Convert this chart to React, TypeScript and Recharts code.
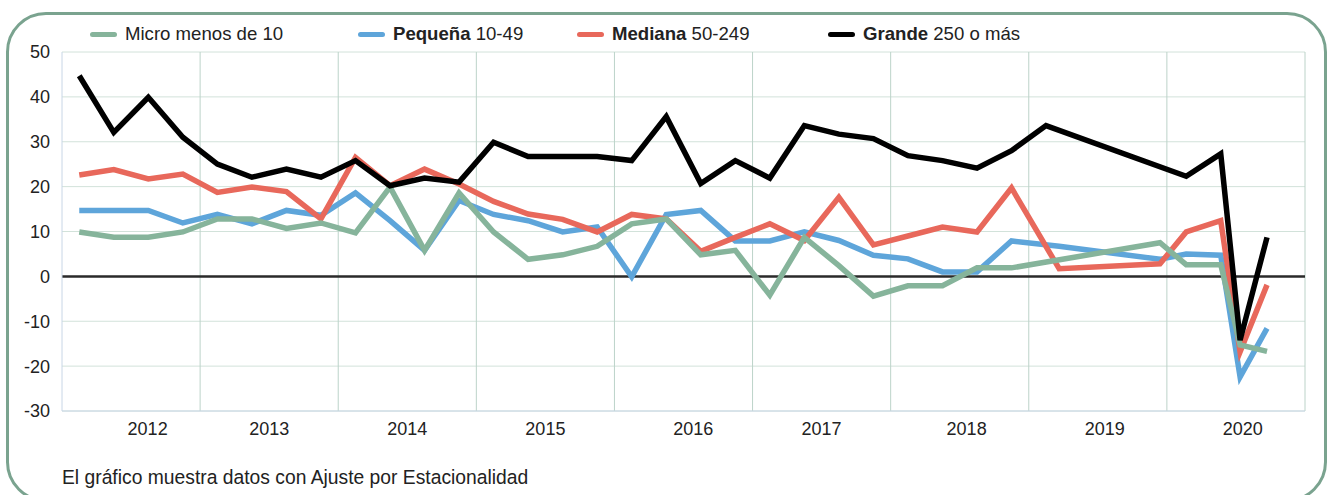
import { LineChart, Line, XAxis, YAxis, CartesianGrid, ReferenceLine } from 'recharts';

// fecha de cada dato, en años decimales (trimestres centrados + datos sueltos de 2019-2020)
const periods = [
  2012.125, 2012.375, 2012.625, 2012.875,
  2013.125, 2013.375, 2013.625, 2013.875,
  2014.125, 2014.375, 2014.625, 2014.875,
  2015.125, 2015.375, 2015.625, 2015.875,
  2016.125, 2016.375, 2016.625, 2016.875,
  2017.125, 2017.375, 2017.625, 2017.875,
  2018.125, 2018.375, 2018.625, 2018.875,
  2019.125, 2019.22, 2019.95,
  2020.14, 2020.39, 2020.53, 2020.725,
];

const micro = [
  9.9, 8.7, 8.7, 9.9, 12.8, 12.8, 10.7, 11.9, 9.7, 19.9, 5.8, 18.6,
  9.9, 3.8, 4.8, 6.7, 11.7, 12.8, 4.8, 5.8, -4.2, 8.7, 2.4, -4.4,
  -2.1, -2.1, 1.9, 1.9, null, null, 7.5, 2.6, 2.6, -15.3, -16.7,
];
const pequena = [
  14.7, 14.7, 14.7, 11.9, 13.8, 11.7, 14.7, 13.6, 18.6, 12.4, 5.8, 16.9,
  13.8, 12.4, 9.9, 11.0, -0.1, 13.8, 14.7, 7.9, 7.9, 9.9, 8.0, 4.7,
  3.9, 1.0, 1.0, 7.9, null, 6.7, 3.8, 5.0, 4.7, -22.4, -11.6,
];
const mediana = [
  22.6, 23.8, 21.7, 22.8, 18.7, 19.9, 18.9, 12.8, 26.5, 20.2, 23.9, 20.6,
  16.7, 13.9, 12.7, 9.9, 13.8, 12.8, 5.6, 8.7, 11.7, 8.0, 17.6, 7.0,
  9.0, 11.0, 9.9, 19.7, null, 1.7, 2.8, 9.9, 12.4, -16.8, -1.9,
];
const grande = [
  44.7, 32.1, 39.9, 31.0, 25.0, 22.1, 23.9, 22.1, 25.8, 20.2, 21.9, 21.0,
  29.9, 26.7, 26.7, 26.7, 25.8, 35.6, 20.7, 25.8, 21.9, 33.6, 31.7, 30.7,
  26.9, 25.8, 24.1, 28.0, 33.6, null, null, 22.3, 27.3, -14.2, 8.7,
];

// posición de las etiquetas de año (no están todas centradas en su banda)
const yearTicks = [2012.62, 2013.5, 2014.5, 2015.5, 2016.57, 2017.5, 2018.55, 2019.55, 2020.55];
const yearBounds = [2013, 2014, 2015, 2016, 2017, 2018, 2019, 2020, 2021];
const yTicks = [-30, -20, -10, 0, 10, 20, 30, 40, 50];

const rows = periods.map((t, i) => ({
  t,
  micro: micro[i],
  pequena: pequena[i],
  mediana: mediana[i],
  grande: grande[i],
}));

const FONT = '"Liberation Sans", Arial, Helvetica, sans-serif';
const TEXT = '#222';

const legendItems = [
  { color: '#86b49b', bold: '', rest: 'Micro menos de 10', left: 90 },
  { color: '#5ea5da', bold: 'Pequeña', rest: ' 10-49', left: 358 },
  { color: '#e8685b', bold: 'Mediana', rest: ' 50-249', left: 577 },
  { color: '#000000', bold: 'Grande', rest: ' 250 o más', left: 828 },
];

export default function App() {
  return (
    <div style={{ position: 'absolute', left: 0, top: 0, width: 1328, height: 495, overflow: 'hidden', background: '#fff', fontFamily: FONT, color: TEXT }}>
      <div style={{ position: 'absolute', left: 6, top: 12, width: 1321, height: 490, border: '3px solid #7aa38f', borderRadius: 40, boxSizing: 'border-box' }} />

      {legendItems.map((it) => (
        <div key={it.color} style={{ position: 'absolute', left: it.left, top: 24, height: 20, lineHeight: '20px', fontSize: 18.6, whiteSpace: 'nowrap', display: 'flex', alignItems: 'center' }}>
          <span style={{ display: 'inline-block', width: 27, height: 5, borderRadius: 3, background: it.color, marginRight: 8 }} />
          <span>
            {it.bold && <b>{it.bold}</b>}
            {it.rest}
          </span>
        </div>
      ))}

      <div style={{ position: 'absolute', left: 0, top: 0 }}>
        <LineChart width={1328} height={495} data={rows} margin={{ top: 52, right: 23, bottom: 54, left: 0 }}>
          <CartesianGrid vertical={false} stroke="#d2e2da" />
          {yearBounds.map((y) => (
            <ReferenceLine key={y} x={y} stroke="#bcd3c9" />
          ))}
          <XAxis
            dataKey="t"
            type="number"
            domain={[2012, 2021]}
            ticks={yearTicks}
            tickFormatter={(v: number) => String(Math.floor(v))}
            tickLine={false}
            axisLine={{ stroke: '#c8d6e6' }}
            tickMargin={5}
            height={30}
            tick={{ fill: TEXT, fontSize: 18, fontFamily: FONT }}
          />
          <YAxis
            domain={[-30, 50]}
            ticks={yTicks}
            width={62}
            tickLine={false}
            axisLine={{ stroke: '#c8d6e6' }}
            tickMargin={6}
            tick={{ fill: TEXT, fontSize: 18, fontFamily: FONT }}
          />
          <ReferenceLine y={0} stroke="#2a2a2a" strokeWidth={2.5} />
          <Line type="linear" dataKey="pequena" stroke="#5ea5da" strokeWidth={5.5} dot={false} connectNulls isAnimationActive={false} />
          <Line type="linear" dataKey="mediana" stroke="#e8685b" strokeWidth={5.5} dot={false} connectNulls isAnimationActive={false} />
          <Line type="linear" dataKey="micro" stroke="#86b49b" strokeWidth={5.5} dot={false} connectNulls isAnimationActive={false} />
          <Line type="linear" dataKey="grande" stroke="#000000" strokeWidth={5.5} dot={false} connectNulls isAnimationActive={false} />
        </LineChart>
      </div>

      <div style={{ position: 'absolute', left: 62, top: 468, lineHeight: '20px', fontSize: 19.3, whiteSpace: 'nowrap' }}>
        El gráfico muestra datos con Ajuste por Estacionalidad
      </div>
    </div>
  );
}
